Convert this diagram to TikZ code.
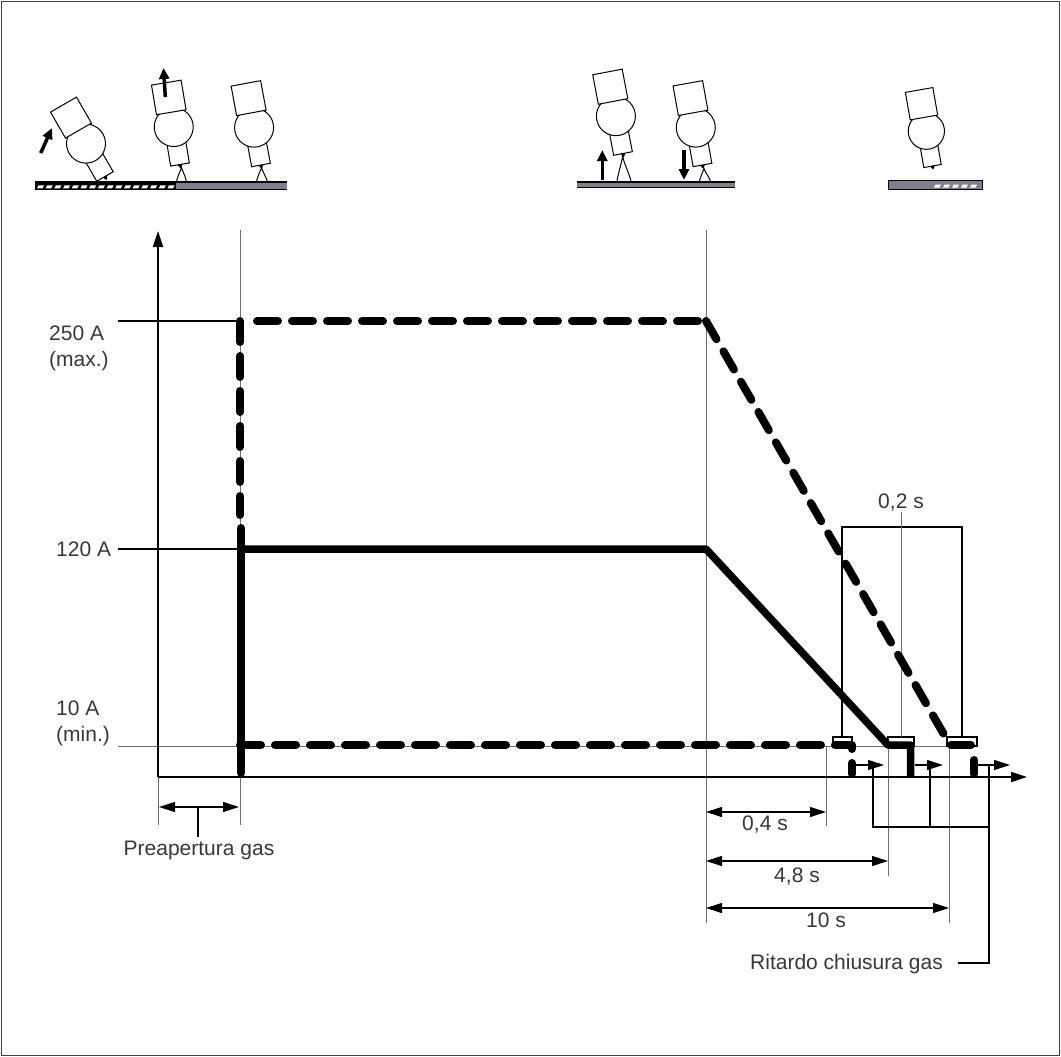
\documentclass[tikz,border=0pt]{standalone}
\usepackage{fontspec}
\setmainfont{Liberation Sans}
\usetikzlibrary{arrows.meta}
\definecolor{txt}{RGB}{55,55,55}
\definecolor{plategray}{RGB}{128,128,140}
\definecolor{guidegray}{RGB}{110,110,110}
\begin{document}
\begin{tikzpicture}[x=1pt,y=-1pt,
  guide/.style={line width=1pt, draw=guidegray},
  fine/.style={line width=1.1pt, draw=black},
  axisline/.style={line width=2.2pt, draw=black, -{Triangle[length=16pt,width=10pt]}},
  dimarrow/.style={line width=1.1pt, draw=black, {Triangle[length=16pt,width=10pt]}-{Triangle[length=16pt,width=10pt]}},
  rarrow/.style={line width=1.1pt, draw=black, -{Triangle[length=16pt,width=10pt]}},
  thickdash/.style={line width=8pt, line cap=round, line join=round, dash pattern=on 21pt off 14pt},
  thicksolid/.style={line width=7.5pt, line join=round},
  lbl/.style={font=\fontsize{21}{25}\selectfont, text=txt, inner sep=0pt},
  torchline/.style={line width=1pt, draw=black, fill=white},
  movearrow/.style={line width=3.5pt, -{Triangle[length=11pt,width=10pt]}},
  arcline/.style={line width=1pt, draw=black},
  torch/.pic={
    \draw[torchline] (-9.5,0) rectangle (9.5,-26);
    \draw[torchline] (0,-38) circle[radius=19.5pt];
    \draw[torchline] (-15,-53) rectangle (15,-83);
    \fill (-2.5,0) -- (2.5,0) -- (0,4) -- cycle;
  },
]
\useasboundingbox (0,0) rectangle (1061,1057);
% frame
\draw[line width=1.5pt, draw=black!75] (1.5,1.5) rectangle (1059.5,1055.5);

% ---------------- torch illustrations ----------------
% left plate
\fill[black] (35,181) rectangle (176,190);
\foreach \x in {37,45.7,...,170} {
  \fill[white] (\x,188.3) -- (\x+1.5,185.3) -- (\x+7,185.3) -- (\x+5.5,188.3) -- cycle;
}
\fill[plategray] (176,182) rectangle (287,190);
\draw[line width=2.5pt] (35,182.2) -- (287,182.2);
\draw[line width=1pt] (176,189.5) -- (287,189.5);
% middle plate
\fill[plategray] (577,181) rectangle (735,188);
\draw[line width=2.5pt] (577,182.2) -- (735,182.2);
\draw[line width=1pt] (577,187.5) -- (735,187.5);
% right plate
\fill[plategray] (888,180) rectangle (982,189);
\foreach \x in {934,943,...,975} {
  \fill[white] (\x,187.5) -- (\x+1.5,184.5) -- (\x+7,184.5) -- (\x+5.5,187.5) -- cycle;
}
\draw[line width=1pt] (888,180) rectangle (982,189);
\draw[line width=1.5pt] (888,180.5) -- (982,180.5);

% torches
\pic[rotate=30] at (105,176.5) {torch};
\pic[rotate=9.5] at (180,164.5) {torch};
\pic[rotate=10.5] at (261,165) {torch};
\pic[rotate=10.8] at (623,153.5) {torch};
\pic[rotate=10.2] at (702.5,165) {torch};
\pic[rotate=10,scale=0.93] at (932.5,166) {torch};

% arcs
\draw[arcline] (176.5,181.5) .. controls (178,175) and (180.5,171) .. (181.5,167.5) .. controls (182.5,171) and (185,175) .. (186.5,181.5);
\draw[arcline] (256.5,181.5) .. controls (258,175) and (260.5,171) .. (261.5,167.5) .. controls (262.5,171) and (265,175) .. (267.5,181.5);
\draw[arcline] (617,181) .. controls (618.5,172) and (621.5,163) .. (622.7,156.5) .. controls (624,163) and (628.5,172) .. (631,181);
\draw[arcline] (699.5,181) .. controls (700.5,176) and (703,172) .. (704,168.5) .. controls (705,172) and (708.5,176) .. (710.5,181);

% motion arrows
\draw[movearrow] (40.7,153) -- (52,128);
\draw[movearrow] (165.3,97) -- (163.5,68);
\draw[movearrow] (602.3,180) -- (602.3,150);
\draw[movearrow] (684,150) -- (684,180);

% ---------------- chart ----------------
\coordinate (O) at (158,777);
\coordinate (Ytop) at (158,231);
\coordinate (Xend) at (1027,777);

% guide lines
\draw[guide] (240,230) -- (240,825);
\draw[guide] (706,230) -- (706,923);
\draw[guide] (158,777) -- (158,825);
\draw[fine] (118,321) -- (240,321);
\draw[fine] (118,549) -- (240,549);
\draw[guide] (118,746) -- (977,746);

% 0,2 s bracket and tabs
\draw[fine] (833,737) rectangle (852,746);
\draw[fine] (888,737) rectangle (914,746);
\draw[fine] (947,737) rectangle (977,746);
\draw[fine] (842,737) -- (842,527) -- (962,527) -- (962,737);
\draw[guide] (901,512) -- (901,737);

% bottom verticals
\draw[guide] (826,746) -- (826,826);
\draw[guide] (888,746) -- (888,876);
\draw[guide] (949,746) -- (949,923);
\draw[fine] (873,765) -- (873,827) -- (989,827);
\draw[fine] (930,765) -- (930,827);
\draw[fine] (989,765) -- (989,963) -- (958,963);

% small arrows
\draw[rarrow] (856,765) -- (884,765);
\draw[rarrow] (915,765) -- (943,765);
\draw[rarrow] (978,765) -- (1010,765);

% axes
\draw[axisline] (O) -- (Ytop);
\draw[axisline] (O) -- (Xend);

% thick curves
% 10 A dashed
\draw[thickdash] (240,745) -- (852,745) -- (852,774);
% 250 A dashed
\draw[thickdash] (240,321) -- (240,515);
\draw[thickdash] (257,321) -- (706,321);
\draw[thickdash] (706,321) -- (950,745);
\draw[line width=8pt, line cap=round] (951,745) -- (971,745);
\draw[line width=8pt, line cap=round] (974,760) -- (974,774);
% 120 A solid
\draw[line width=8pt, line cap=round] (241,773) -- (241,528);
\draw[thicksolid] (241,549) -- (706,549) -- (888,745) -- (910.5,745) -- (910.5,777);

% dimension arrows
\draw[dimarrow] (159,807) -- (239,807);
\draw[fine] (198,807) -- (198,837);
\draw[dimarrow] (706,812) -- (826,812);
\draw[dimarrow] (706,861) -- (888,861);
\draw[dimarrow] (706,908) -- (949,908);

% labels
\node[lbl, anchor=base west] (l250) at (49,340) {250 A};
\node[lbl, anchor=base west] (lmax) at (49,366) {(max.)};
\node[lbl, anchor=base west] (l120) at (56,556) {120 A};
\node[lbl, anchor=base west] (l10) at (56,715) {10 A};
\node[lbl, anchor=base west] (lmin) at (56,741) {(min.)};
\node[lbl, anchor=base] (l02) at (901,508) {0,2 s};
\node[lbl, anchor=base] (l04) at (765,830) {0,4 s};
\node[lbl, anchor=base] (l48) at (797,882) {4,8 s};
\node[lbl, anchor=base] (l10s) at (826,927) {10 s};
\node[lbl, anchor=base] (lpre) at (199,855) {Preapertura gas};
\node[lbl, anchor=base east] (lrit) at (943,969) {Ritardo chiusura gas};
\end{tikzpicture}
\end{document}
